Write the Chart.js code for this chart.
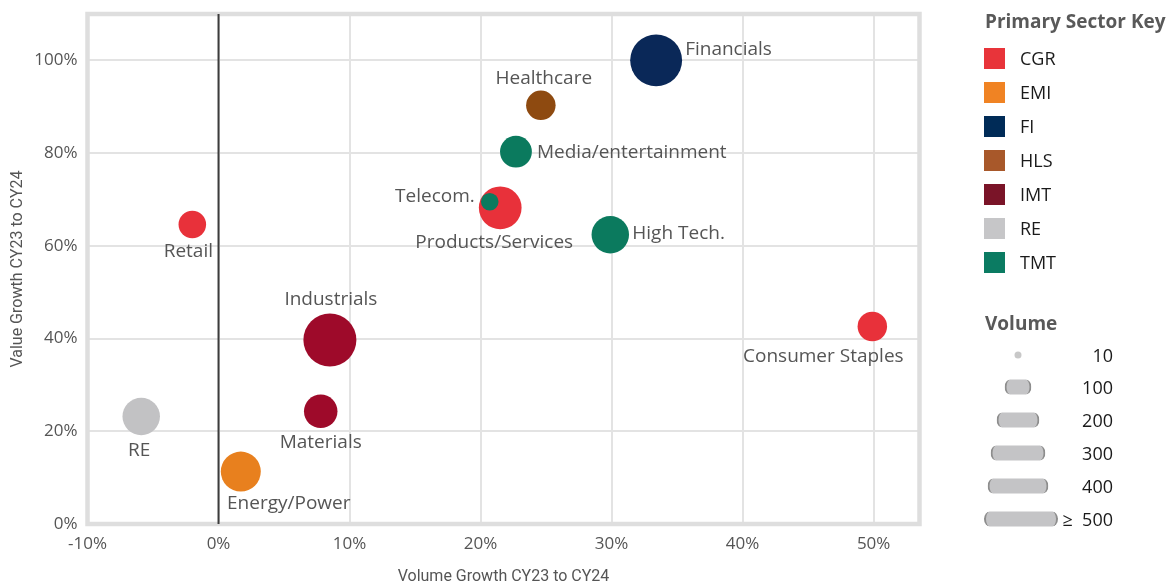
<!DOCTYPE html>
<html>
<head>
<meta charset="utf-8">
<script src="https://cdn.jsdelivr.net/npm/chart.js@4.4.1/dist/chart.umd.min.js"></script>
<style>
  html, body { margin: 0; padding: 0; background: #fff; }
  #wrap { position: relative; width: 1175px; height: 585px; overflow: hidden; }
  #c { position: absolute; left: 0; top: 0; }
  .lg { position: absolute; font-family: "Open Sans", sans-serif; }
  .lgTitle { font-weight: 700; font-size: 19px; color: #595959; line-height: 1; transform: translateY(-50%); white-space: nowrap; }
  .sw { position: absolute; width: 21px; height: 21px; }
  .swText { font-size: 18px; color: #1a1a1a; line-height: 1; transform: translateY(-50%); }
  .volNum { font-size: 18px; color: #1a1a1a; line-height: 1; transform: translateY(-50%); text-align: right; width: 80px; white-space: nowrap; }
  .cap { position: absolute; height: 15px; background: #c4c4c6; box-sizing: border-box;
         border-left: 2px solid #8d8d8d; border-right: 2px solid #8d8d8d; border-radius: 6px / 50%; transform: translate(-50%, -50%); }
  .dot { position: absolute; width: 7px; height: 7px; border-radius: 50%; background: #c8c8c8; transform: translate(-50%, -50%); }
</style>
</head>
<body>
<div id="wrap">
  <canvas id="c" width="1175" height="585"></canvas>
  <div id="legend"></div>
</div>
<script>
// ---- Data ----
const labels = ['Financials', 'Healthcare', 'Media/entertainment', 'Products/Services', 'Telecom.', 'High Tech.',
                'Consumer Staples', 'Retail', 'Industrials', 'Materials', 'RE', 'Energy/Power'];
const sectors = ['FI', 'HLS', 'TMT', 'CGR', 'TMT', 'TMT', 'CGR', 'CGR', 'IMT', 'IMT', 'RE', 'EMI'];
const volumeGrowth = [33.4, 24.6, 22.7, 21.5, 20.7, 29.9, 49.9, -2.0, 8.5, 7.8, -5.9, 1.7];
const valueGrowth = [100, 90.3, 80.3, 68.2, 69.5, 62.4, 42.6, 64.6, 39.7, 24.3, 23.2, 11.3];
const volumes = [480, 155, 180, 325, 55, 250, 155, 135, 500, 200, 250, 285];

const sectorKeys = ['CGR', 'EMI', 'FI', 'HLS', 'IMT', 'RE', 'TMT'];
const volumeKeys = [10, 100, 200, 300, 400, 500];
const xTicks = [-10, 0, 10, 20, 30, 40, 50];
const yTicks = [0, 20, 40, 60, 80, 100];

// ---- Styles ----
const keyColors = { CGR: '#E8343A', EMI: '#F08323', FI: '#002B57', HLS: '#A8582A', IMT: '#7A1428', RE: '#C6C6C8', TMT: '#0B7B62' };
const bubbleColors = { CGR: '#E8313A', EMI: '#E8801E', FI: '#0A2858', HLS: '#8E4A10', IMT: '#9E0A2A', RE: '#C2C2C4', TMT: '#0B7A5E' };
// label placement relative to bubble centre: [dx, dy, textAlign]
const labelPlace = [
  [29, -11, 'left'], [3, -27, 'center'], [21, 1, 'left'], [-6, 35, 'center'], [-15, -5, 'right'], [22, -1, 'left'],
  [-49, 30, 'center'], [-4, 27, 'center'], [1, -40, 'center'], [0, 31, 'center'], [-2, 34, 'center'], [48, 32, 'center']
];
const capWidths = [0, 27, 43, 55, 61, 74];
const RADIUS_K = 1.185;
const VOL_CAP = 500;

const points = labels.map((l, i) => ({
  x: volumeGrowth[i], y: valueGrowth[i],
  r: RADIUS_K * Math.sqrt(Math.min(volumes[i], VOL_CAP))
}));

const chartLeft = 87.5, chartRight = 919.5, chartTop = 14, chartBottom = 524;

function noPad(s) { s.paddingTop = 0; s.paddingBottom = 0; s.paddingLeft = 0; s.paddingRight = 0; }

const frame = {
  id: 'frame',
  beforeDatasetsDraw(chart) {
    const a = chart.chartArea, ctx = chart.ctx;
    ctx.save();
    ctx.strokeStyle = '#dedede';
    ctx.lineWidth = 4.5;
    ctx.strokeRect(a.left, a.top, a.right - a.left, a.bottom - a.top);
    const x0 = chart.scales.x.getPixelForValue(0);
    ctx.strokeStyle = '#3c3c3c';
    ctx.lineWidth = 2;
    ctx.beginPath();
    ctx.moveTo(x0, a.top);
    ctx.lineTo(x0, a.bottom);
    ctx.stroke();
    ctx.restore();
  }
};

const dataLabels = {
  id: 'dataLabels',
  afterDatasetsDraw(chart) {
    const ctx = chart.ctx;
    const meta = chart.getDatasetMeta(0);
    ctx.save();
    ctx.font = '19px "Open Sans"';
    ctx.fillStyle = '#555555';
    ctx.textBaseline = 'middle';
    meta.data.forEach((el, i) => {
      const p = labelPlace[i];
      ctx.textAlign = p[2];
      ctx.fillText(labels[i], el.x + p[0], el.y + p[1]);
    });
    ctx.restore();
  }
};

new Chart(document.getElementById('c'), {
  type: 'bubble',
  data: {
    datasets: [{
      data: points,
      backgroundColor: sectors.map(s => bubbleColors[s]),
      hoverBackgroundColor: sectors.map(s => bubbleColors[s]),
      borderWidth: 0,
      hoverBorderWidth: 0
    }]
  },
  options: {
    responsive: false,
    devicePixelRatio: 1,
    animation: false,
    events: [],
    layout: { autoPadding: false, padding: { left: 0, top: chartTop, right: 1175 - chartRight, bottom: 0 } },
    plugins: { legend: { display: false }, tooltip: { enabled: false } },
    scales: {
      x: {
        type: 'linear', min: -10, max: 53.5,
        afterFit(s) { s.height = 585 - chartBottom; noPad(s); },
        afterBuildTicks(s) { s.ticks = xTicks.map(v => ({ value: v })); },
        ticks: { callback: v => v + '%', padding: 10, color: '#555555', font: { family: 'Open Sans', size: 17 } },
        grid: { color: '#e3e3e3', lineWidth: 2, drawTicks: false },
        border: { display: false },
        title: { display: true, text: 'Volume Growth CY23 to CY24', color: '#555555',
                 font: { family: 'Roboto', size: 16, lineHeight: 1 }, padding: { top: 0, bottom: 0 } }
      },
      y: {
        type: 'linear', min: 0, max: 110,
        afterFit(s) { s.width = chartLeft; noPad(s); },
        afterBuildTicks(s) { s.ticks = yTicks.map(v => ({ value: v })); },
        ticks: { callback: v => v + '%', padding: 10, color: '#555555', font: { family: 'Open Sans', size: 17 } },
        grid: { color: '#e3e3e3', lineWidth: 2, drawTicks: false },
        border: { display: false },
        title: { display: true, text: 'Value Growth CY23 to CY24', color: '#555555',
                 font: { family: 'Roboto', size: 16, lineHeight: 1 }, padding: { top: 10, bottom: 0 } }
      }
    }
  },
  plugins: [frame, dataLabels]
});

// ---- Legends (HTML) ----
const lg = document.getElementById('legend');
let html = '<div class="lg lgTitle" style="left:985px;top:21px">Primary Sector Key</div>';
sectorKeys.forEach((k, i) => {
  const cy = 58 + 34 * i;
  html += '<div class="lg sw" style="left:984px;top:' + (cy - 10.5) + 'px;background:' + keyColors[k] + '"></div>';
  html += '<div class="lg swText" style="left:1020px;top:' + cy + 'px">' + k + '</div>';
});
html += '<div class="lg lgTitle" style="left:985px;top:323px">Volume</div>';
volumeKeys.forEach((v, i) => {
  const cy = 354.5 + 32.8 * i;
  if (i === 0) {
    html += '<div class="lg dot" style="left:1018px;top:' + cy + 'px"></div>';
  } else {
    const cx = i === volumeKeys.length - 1 ? 1021 : 1018;
    html += '<div class="lg cap" style="left:' + cx + 'px;top:' + cy + 'px;width:' + capWidths[i] + 'px"></div>';
  }
  const txt = (i === volumeKeys.length - 1 ? '\u2265&nbsp;&nbsp;' : '') + v;
  html += '<div class="lg volNum" style="left:1033px;top:' + cy + 'px">' + txt + '</div>';
});
lg.innerHTML = html;
</script>
</body>
</html>
